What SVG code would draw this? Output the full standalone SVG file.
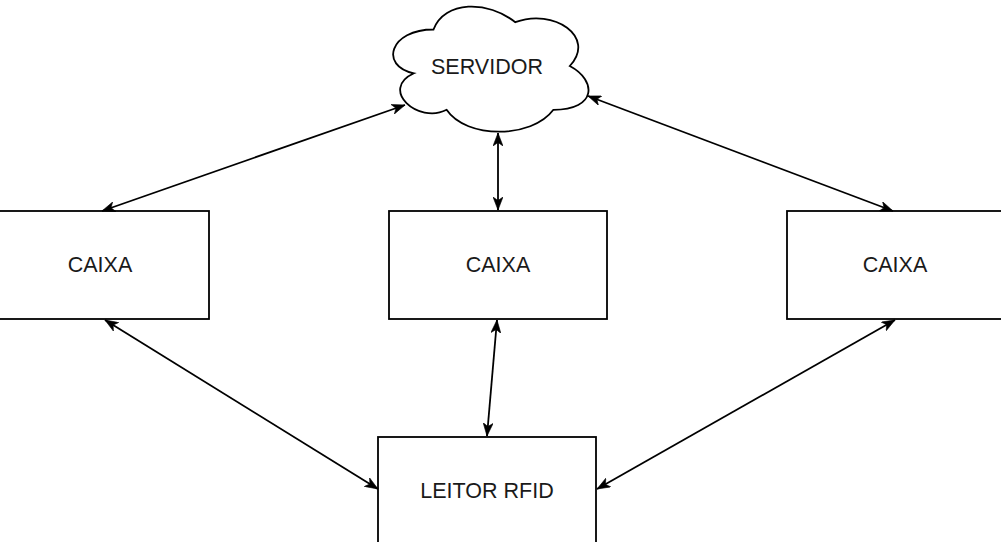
<svg xmlns="http://www.w3.org/2000/svg" width="1001" height="542" viewBox="0 0 1001 542">
<style>
.node{fill:#ffffff;stroke:#000000;stroke-width:1.8}
.lbl{font-family:"Liberation Sans",Arial,Helvetica,sans-serif;font-size:21.5px;fill:#1a1a1a;text-anchor:middle}
.edge{fill:none;stroke:#000000;stroke-width:1.8;marker-start:url(#arr);marker-end:url(#arr)}
</style>
<defs>
<marker id="arr" markerUnits="userSpaceOnUse" viewBox="0 0 14 10" markerWidth="14" markerHeight="10" refX="13" refY="5" orient="auto-start-reverse">
<path d="M0,0 L13,5 L0,10 L3.5,5 Z" fill="#000000" stroke="#000000" stroke-width="0.6"/>
</marker>
</defs>
<rect width="1001" height="542" fill="#ffffff"/>
<g id="servidor">
<path class="node" d="M433.5,29.5 C389.9,29.5 379,66 413.9,73.3 C379,89.4 418.2,124.4 446.6,109.8 C466.2,139 531.6,139 553.4,109.8 C597,109.8 597,80.6 569.8,66 C597,36.8 553.4,7.6 515.3,22.2 C488,0.3 444.4,0.3 433.5,29.5 Z"/>
<text class="lbl" x="487" y="73.5">SERVIDOR</text>
</g>
<g id="caixa-left">
<rect class="node" x="-9" y="211" width="218" height="108"/>
<text class="lbl" x="100" y="272">CAIXA</text>
</g>
<g id="caixa-center">
<rect class="node" x="389" y="211" width="218" height="108"/>
<text class="lbl" x="498" y="272">CAIXA</text>
</g>
<g id="caixa-right">
<rect class="node" x="787" y="211" width="218" height="108"/>
<text class="lbl" x="895" y="272">CAIXA</text>
</g>
<g id="leitor">
<rect class="node" x="378" y="437" width="218" height="110"/>
<text class="lbl" x="487" y="498">LEITOR RFID</text>
</g>
<g id="connectors">
<line class="edge" x1="102" y1="211" x2="405" y2="105"/>
<line class="edge" x1="498" y1="133" x2="498" y2="210"/>
<line class="edge" x1="588" y1="96" x2="893" y2="211"/>
<line class="edge" x1="105" y1="320" x2="378" y2="489"/>
<line class="edge" x1="497" y1="320" x2="487" y2="436"/>
<line class="edge" x1="895" y1="320" x2="597" y2="489"/>
</g>
</svg>
